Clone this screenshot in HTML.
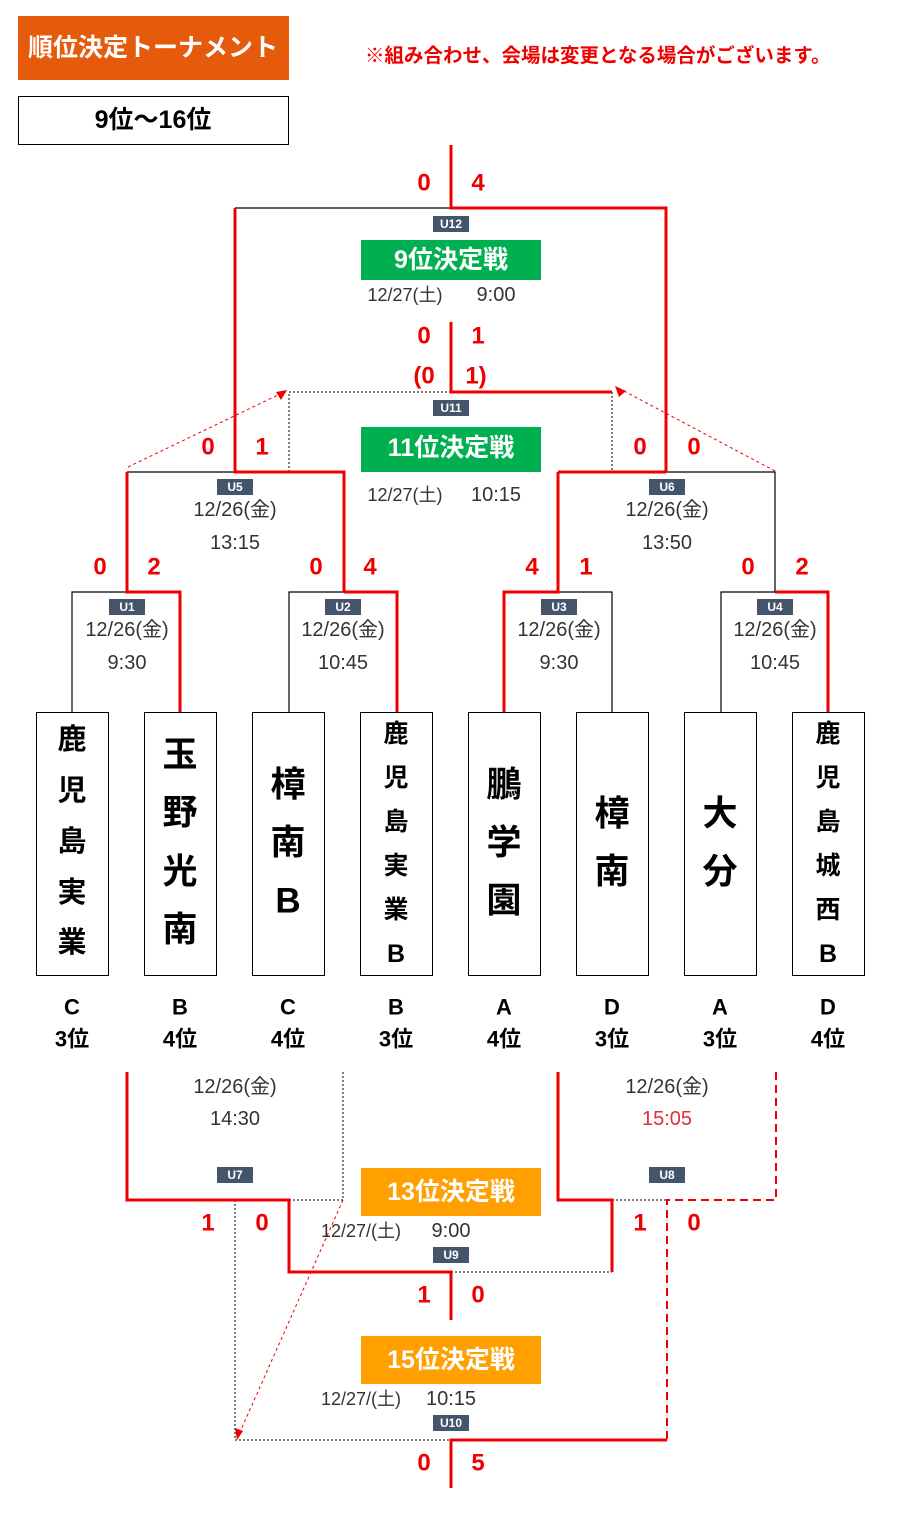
<!DOCTYPE html>
<html><head><meta charset="utf-8"><style>
html,body{margin:0;padding:0;background:#fff;}
svg{display:block;font-family:"Liberation Sans","Noto Sans CJK JP",sans-serif;}
.s{fill:#e00;font-weight:bold;font-size:24px;text-anchor:middle;dominant-baseline:central;}
.d{fill:#333;font-size:20px;text-anchor:middle;dominant-baseline:central;}
.ds{fill:#333;font-size:18px;text-anchor:middle;dominant-baseline:central;}
.u{fill:#fff;font-size:12px;font-weight:bold;text-anchor:middle;dominant-baseline:central;}
.t{fill:#000;font-weight:bold;text-anchor:middle;dominant-baseline:central;}
.r{fill:#fff;font-weight:bold;font-size:25px;text-anchor:middle;dominant-baseline:central;}
.g{fill:#000;font-weight:bold;font-size:22px;text-anchor:middle;dominant-baseline:central;}
</style></head><body>
<svg width="919" height="1521" viewBox="0 0 919 1521" xmlns="http://www.w3.org/2000/svg">
<rect x="18" y="16" width="271" height="64" fill="#e65a0c"/>
<text x="153" y="48" fill="#fff" font-weight="bold" font-size="25" text-anchor="middle" dominant-baseline="central">順位決定トーナメント</text>
<text x="365" y="56" fill="#e00" font-weight="bold" font-size="19.5" dominant-baseline="central">※組み合わせ、会場は変更となる場合がございます。</text>
<rect x="18.5" y="96.5" width="270" height="48" fill="#fff" stroke="#000" stroke-width="1"/>
<text x="153" y="120" fill="#000" font-weight="bold" font-size="25" text-anchor="middle" dominant-baseline="central">9位～16位</text>

<g stroke="#000" stroke-width="1.2" fill="none">
<path d="M235 208H451"/>
<path d="M127 472H235"/>
<path d="M666 472H775V592"/>
<path d="M72 712V592H127"/>
<path d="M289 712V592H344"/>
<path d="M558 592H612V712"/>
<path d="M721 712V592H775"/>
</g>
<g stroke="#000" stroke-width="1" fill="none" stroke-dasharray="2,2">
<path d="M289 472V392H451"/>
<path d="M612 392V472"/>
<path d="M343 1072V1200H289"/>
<path d="M235 1200V1440H451"/>
<path d="M451 1272H612"/>
<path d="M612 1200H667"/>
</g>
<g stroke="#e00" stroke-width="3" fill="none">
<path d="M451 145V208H666V472"/>
<path d="M235 208V472H344V592"/>
<path d="M451 322V392H612"/>
<path d="M558 472H666"/>
<path d="M558 472V592H504V712"/>
<path d="M127 472V592H180V712"/>
<path d="M344 592H397V712"/>
<path d="M775 592H828V712"/>
<path d="M127 1072V1200H289V1272H451V1320"/>
<path d="M558 1072V1200H612V1272"/>
<path d="M451 1488V1440H667"/>
</g>
<g stroke="#e00" stroke-width="2" fill="none" stroke-dasharray="8,5">
<path d="M776 1072V1200H667V1440"/>
</g>
<g stroke="#e00" stroke-width="1" fill="none" stroke-dasharray="3,3">
<path d="M128 467L280 394"/>
<path d="M775 471L622 390"/>
<path d="M343 1200L240 1432"/>
</g>
<g fill="#e00">
<path d="M287 390L276 392L281 400Z"/>
<path d="M615 386L619 397L626 391Z"/>
<path d="M237 1440L235 1428L243 1431Z"/>
</g>

<g>
<rect x="433" y="216" width="36" height="16" fill="#44546a"/><text class="u" x="451" y="224">U12</text>
<rect x="433" y="400" width="36" height="16" fill="#44546a"/><text class="u" x="451" y="408">U11</text>
<rect x="217" y="479" width="36" height="16" fill="#44546a"/><text class="u" x="235" y="487">U5</text>
<rect x="649" y="479" width="36" height="16" fill="#44546a"/><text class="u" x="667" y="487">U6</text>
<rect x="109" y="599" width="36" height="16" fill="#44546a"/><text class="u" x="127" y="607">U1</text>
<rect x="325" y="599" width="36" height="16" fill="#44546a"/><text class="u" x="343" y="607">U2</text>
<rect x="541" y="599" width="36" height="16" fill="#44546a"/><text class="u" x="559" y="607">U3</text>
<rect x="757" y="599" width="36" height="16" fill="#44546a"/><text class="u" x="775" y="607">U4</text>
<rect x="217" y="1167" width="36" height="16" fill="#44546a"/><text class="u" x="235" y="1175">U7</text>
<rect x="649" y="1167" width="36" height="16" fill="#44546a"/><text class="u" x="667" y="1175">U8</text>
<rect x="433" y="1247" width="36" height="16" fill="#44546a"/><text class="u" x="451" y="1255">U9</text>
<rect x="433" y="1415" width="36" height="16" fill="#44546a"/><text class="u" x="451" y="1423">U10</text>
</g>

<rect x="361" y="240" width="180" height="40" fill="#00b050"/><text class="r" x="451" y="260">9位決定戦</text>
<rect x="361" y="427" width="180" height="45" fill="#00b050"/><text class="r" x="451" y="448">11位決定戦</text>
<rect x="361" y="1168" width="180" height="48" fill="#ffa000"/><text class="r" x="451" y="1192">13位決定戦</text>
<rect x="361" y="1336" width="180" height="48" fill="#ffa000"/><text class="r" x="451" y="1360">15位決定戦</text>

<text class="ds" x="405" y="295">12/27(土)</text><text class="d" x="496" y="295">9:00</text>
<text class="ds" x="405" y="495">12/27(土)</text><text class="d" x="496" y="495">10:15</text>
<text class="ds" x="361" y="1231">12/27/(土)</text><text class="d" x="451" y="1231">9:00</text>
<text class="ds" x="361" y="1399">12/27/(土)</text><text class="d" x="451" y="1399">10:15</text>

<text class="d" x="235" y="510">12/26(金)</text><text class="d" x="235" y="543">13:15</text>
<text class="d" x="667" y="510">12/26(金)</text><text class="d" x="667" y="543">13:50</text>
<text class="d" x="127" y="630">12/26(金)</text><text class="d" x="127" y="663">9:30</text>
<text class="d" x="343" y="630">12/26(金)</text><text class="d" x="343" y="663">10:45</text>
<text class="d" x="559" y="630">12/26(金)</text><text class="d" x="559" y="663">9:30</text>
<text class="d" x="775" y="630">12/26(金)</text><text class="d" x="775" y="663">10:45</text>
<text class="d" x="235" y="1087">12/26(金)</text><text class="d" x="235" y="1119">14:30</text>
<text class="d" x="667" y="1087">12/26(金)</text><text class="d" x="667" y="1119" style="fill:#e03030">15:05</text>

<text class="s" x="424" y="183">0</text><text class="s" x="478" y="183">4</text>
<text class="s" x="424" y="336">0</text><text class="s" x="478" y="336">1</text>
<text class="s" x="424" y="376">(0</text><text class="s" x="476" y="376">1)</text>
<text class="s" x="208" y="447">0</text><text class="s" x="262" y="447">1</text>
<text class="s" x="640" y="447">0</text><text class="s" x="694" y="447">0</text>
<text class="s" x="100" y="567">0</text><text class="s" x="154" y="567">2</text>
<text class="s" x="316" y="567">0</text><text class="s" x="370" y="567">4</text>
<text class="s" x="532" y="567">4</text><text class="s" x="586" y="567">1</text>
<text class="s" x="748" y="567">0</text><text class="s" x="802" y="567">2</text>
<text class="s" x="208" y="1223">1</text><text class="s" x="262" y="1223">0</text>
<text class="s" x="640" y="1223">1</text><text class="s" x="694" y="1223">0</text>
<text class="s" x="424" y="1295">1</text><text class="s" x="478" y="1295">0</text>
<text class="s" x="424" y="1463">0</text><text class="s" x="478" y="1463">5</text>

<g fill="#fff" stroke="#000" stroke-width="1">
<rect x="36.5" y="712.5" width="72" height="263"/>
<rect x="144.5" y="712.5" width="72" height="263"/>
<rect x="252.5" y="712.5" width="72" height="263"/>
<rect x="360.5" y="712.5" width="72" height="263"/>
<rect x="468.5" y="712.5" width="72" height="263"/>
<rect x="576.5" y="712.5" width="72" height="263"/>
<rect x="684.5" y="712.5" width="72" height="263"/>
<rect x="792.5" y="712.5" width="72" height="263"/>
</g>
<g font-size="29">
<text class="t" x="72" y="740">鹿</text><text class="t" x="72" y="791">児</text><text class="t" x="72" y="842">島</text><text class="t" x="72" y="893">実</text><text class="t" x="72" y="943">業</text>
</g>
<g font-size="35">
<text class="t" x="180" y="755">玉</text><text class="t" x="180" y="813">野</text><text class="t" x="180" y="872">光</text><text class="t" x="180" y="930">南</text>
<text class="t" x="288" y="785">樟</text><text class="t" x="288" y="843">南</text><text class="t" x="288" y="901">B</text>
<text class="t" x="504" y="785">鵬</text><text class="t" x="504" y="843">学</text><text class="t" x="504" y="901">園</text>
<text class="t" x="612" y="814">樟</text><text class="t" x="612" y="872">南</text>
<text class="t" x="720" y="814">大</text><text class="t" x="720" y="872">分</text>
</g>
<g font-size="25">
<text class="t" x="396" y="734">鹿</text><text class="t" x="396" y="778">児</text><text class="t" x="396" y="822">島</text><text class="t" x="396" y="866">実</text><text class="t" x="396" y="910">業</text><text class="t" x="396" y="954">B</text>
<text class="t" x="828" y="734">鹿</text><text class="t" x="828" y="778">児</text><text class="t" x="828" y="822">島</text><text class="t" x="828" y="866">城</text><text class="t" x="828" y="910">西</text><text class="t" x="828" y="954">B</text>
</g>

<text class="g" x="72" y="1007">C</text><text class="g" x="72" y="1039">3位</text>
<text class="g" x="180" y="1007">B</text><text class="g" x="180" y="1039">4位</text>
<text class="g" x="288" y="1007">C</text><text class="g" x="288" y="1039">4位</text>
<text class="g" x="396" y="1007">B</text><text class="g" x="396" y="1039">3位</text>
<text class="g" x="504" y="1007">A</text><text class="g" x="504" y="1039">4位</text>
<text class="g" x="612" y="1007">D</text><text class="g" x="612" y="1039">3位</text>
<text class="g" x="720" y="1007">A</text><text class="g" x="720" y="1039">3位</text>
<text class="g" x="828" y="1007">D</text><text class="g" x="828" y="1039">4位</text>
</svg>
</body></html>
